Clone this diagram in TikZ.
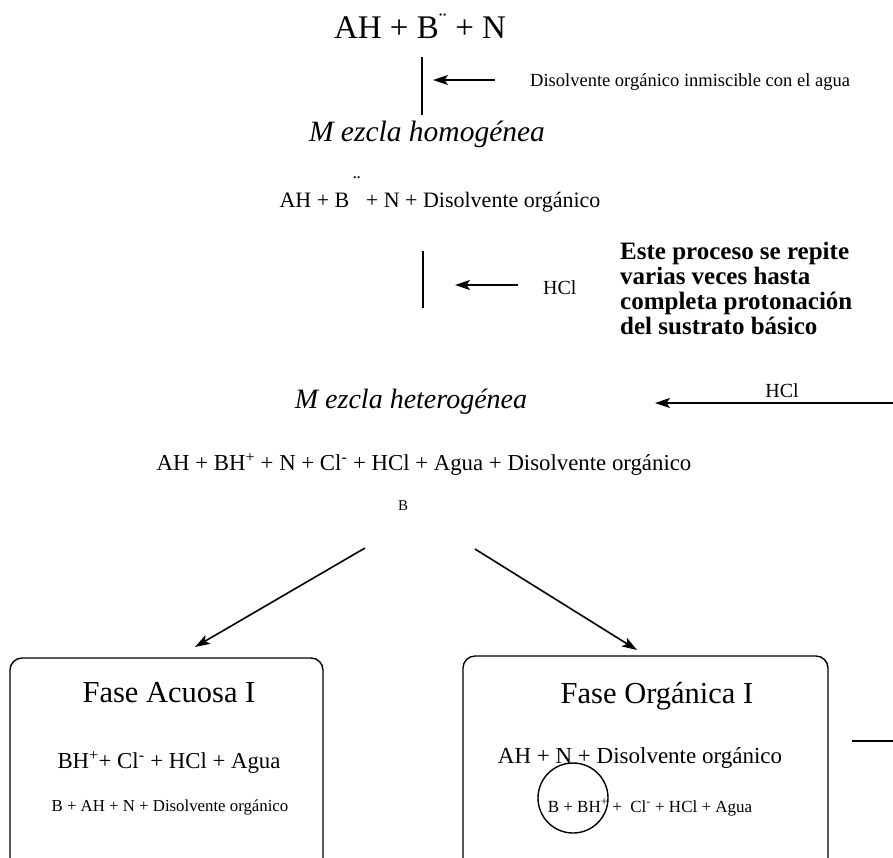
\documentclass[tikz,border=0pt]{standalone}
\usepackage{fontspec}
\setmainfont{Liberation Serif}
\usetikzlibrary{arrows.meta}
\newcommand{\fs}[1]{\fontsize{#1}{#1}\selectfont}
\newcommand{\tightlines}{\lineskiplimit=-100pt\relax\lineskip=0pt\relax}
\begin{document}
\begin{tikzpicture}[x=1pt,y=-1pt,
  txt/.style={inner sep=0pt,anchor=base},
  ln/.style={line width=1.6pt},
  arr/.style={line width=1.6pt,-{Stealth[length=15pt,width=10pt,inset=3.5pt]}},
  fbox/.style={line width=1.4pt,rounded corners=12pt}]
\useasboundingbox (0,0) rectangle (893,857);
\clip (0,0) rectangle (893,857);
% texts
\node[txt] (t1) at (420,38) {\fs{33}AH + B\textsuperscript{¨} + N};
\node[txt,anchor=base west] (t1l) at (530,86) {\fs{18.5}Disolvente orgánico inmiscible con el agua};
\node[txt] (hom) at (427,141) {\fs{29.5}\itshape M ezcla homogénea};
\node[txt] (t2) at (440,207) {\fs{22}AH + B\rlap{\raisebox{0.75em}{\,¨}}\hspace{0.5em} + N + Disolvente orgánico};
\node[txt,anchor=base west] (hcl1) at (543,294) {\fs{20}HCl};
\node[txt,anchor=base west,align=left,font=\fontsize{25}{25}\selectfont\tightlines\bfseries] (rep) at (620,334)
  {Este proceso se repite\\varias veces hasta\\completa protonación\\del sustrato básico};
\node[txt] (het) at (411,408) {\fs{28}\itshape M ezcla heterogénea};
\node[txt] (hcl2) at (782,397) {\fs{20}HCl};
\node[txt] (t3) at (424,470) {\fs{22.8}AH + BH\textsuperscript{+} + N + Cl\textsuperscript{-} + HCl + Agua + Disolvente orgánico};
\node[txt] (bb) at (403,510) {\fs{15}B};
% boxes
\draw[fbox] (10,900) -- (10,658) -- (323,658) -- (323,900);
\draw[fbox] (463,900) -- (463,656) -- (828,656) -- (828,900);
\node[txt] (fa) at (169,702) {\fs{30.5}Fase Acuosa I};
\node[txt] (fa1) at (169,768) {\fs{22.8}BH\textsuperscript{+}+ Cl\textsuperscript{-} + HCl + Agua};
\node[txt] (fa2) at (170,811) {\fs{16.8}B + AH + N + Disolvente orgánico};
\node[txt] (fo) at (657,703) {\fs{30.5}Fase Orgánica I};
\node[txt] (fo1) at (640,763) {\fs{23}AH + N + Disolvente orgánico};
\node[txt] (fo2) at (650,812) {\fs{17}B + BH\textsuperscript{+} +\ \ Cl\textsuperscript{-} + HCl + Agua};
\node[draw,circle,line width=1.4pt,minimum size=70pt,inner sep=0pt] (circ) at (573,798) {};
% connectors
\coordinate (v1a) at (422,57); \coordinate (v1b) at (422,115);
\draw[ln] (v1a) -- (v1b);
\coordinate (a1s) at (495,80); \coordinate (a1e) at (433,80);
\draw[arr] (a1s) -- (a1e);
\coordinate (v2a) at (423,251); \coordinate (v2b) at (423,308);
\draw[ln] (v2a) -- (v2b);
\coordinate (a2s) at (518,285); \coordinate (a2e) at (455,285);
\draw[arr] (a2s) -- (a2e);
\coordinate (a3s) at (893,403); \coordinate (a3e) at (655,403);
\draw[arr] (a3s) -- (a3e);
\coordinate (d1s) at (365,548); \coordinate (d1e) at (195,647);
\draw[arr] (d1s) -- (d1e);
\coordinate (d2s) at (475,549); \coordinate (d2e) at (637,650);
\draw[arr] (d2s) -- (d2e);
\coordinate (r1) at (852,741); \coordinate (r2) at (893,741);
\draw[ln] (r1) -- (r2);
\end{tikzpicture}
\end{document}
